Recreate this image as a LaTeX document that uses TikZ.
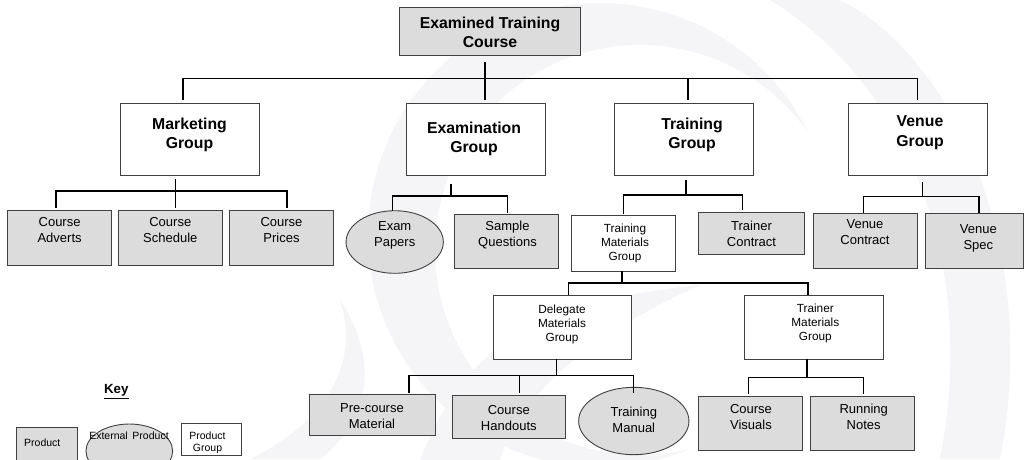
\documentclass[tikz,border=0pt]{standalone}
\usepackage{fontspec}
\setmainfont{Liberation Sans}
\usetikzlibrary{shapes.geometric,calc}
\definecolor{prodgray}{HTML}{DCDCDC}
\definecolor{edge}{HTML}{404040}
\definecolor{wm}{HTML}{F5F5F8}
\tikzset{
  conn/.style={line width=1.2pt, black},
  boxbase/.style={rectangle, draw=edge, line width=0.9pt, inner sep=0pt, outer sep=0pt},
  prod/.style={boxbase, fill=prodgray},
  grp/.style={boxbase, fill=white},
  ext/.style={ellipse, draw=edge, line width=0.9pt, fill=prodgray, inner sep=0pt, outer sep=0pt},
  txt/.style={align=center, inner sep=0pt, text depth=0pt},
  bigtxt/.style={txt, font=\fontsize{15.8}{19.2}\selectfont\bfseries},
  midtxt/.style={txt, font=\fontsize{13}{16}\selectfont},
  smalltxt/.style={txt, font=\fontsize{11.8}{14}\selectfont},
  keytxt/.style={txt, font=\fontsize{10.5}{12}\selectfont},
}
\begin{document}
\begin{tikzpicture}[x=1pt, y=-1pt]
\useasboundingbox (0,0) rectangle (1024,459);
\clip (0,0) rectangle (1024,459);
% faint watermark
\fill[wm] (600,235) circle[radius=232];
\fill[white] (640,250) circle[radius=205];
\fill[wm] (420,460) .. controls (470,330) and (560,300) .. (700,285) .. controls (600,330) and (520,390) .. (500,460) -- cycle;
\fill[wm] (770,0) .. controls (900,80) and (980,250) .. (940,459) -- (1000,459) .. controls (1040,260) and (960,60) .. (840,0) -- cycle;
\fill[wm] (250,459) .. controls (330,420) and (360,360) .. (340,300) .. controls (380,360) and (370,420) .. (320,459) -- cycle;

% level 0
\node[prod, minimum width=181pt, minimum height=48pt] (top) at (489.8,31.3) {};
\node[bigtxt] (ttop) at (490,32.3) {Examined Training\\Course};

% level 1
\node[grp, minimum width=139pt, minimum height=72pt] (mkt) at (189.8,139) {};
\node[bigtxt] (tmkt) at (189.5,133.5) {Marketing\\Group};
\node[grp, minimum width=139pt, minimum height=72pt] (exg) at (475.8,139) {};
\node[bigtxt] (texg) at (474,137.5) {Examination\\Group};
\node[grp, minimum width=139pt, minimum height=72pt] (trg) at (683.8,139) {};
\node[bigtxt] (ttrg) at (692,133.5) {Training\\Group};
\node[grp, minimum width=139pt, minimum height=72pt] (vng) at (917.8,139) {};
\node[bigtxt] (tvng) at (920,131) {Venue\\Group};

% marketing children
\node[prod, minimum width=104.4pt, minimum height=55pt] (adv) at (59.5,237.5) {};
\node[midtxt] (tadv) at (59.6,230.2) {Course\\Adverts};
\node[prod, minimum width=104pt, minimum height=55pt] (sch) at (170.3,237.5) {};
\node[midtxt] (tsch) at (170.3,230.2) {Course\\Schedule};
\node[prod, minimum width=104.4pt, minimum height=55pt] (pri) at (281.5,237.5) {};
\node[midtxt] (tpri) at (281.5,230.2) {Course\\Prices};

% examination children
\node[ext, minimum width=97.3pt, minimum height=62.6pt] (exp) at (394.7,242) {};
\node[midtxt] (texp) at (394.7,234.5) {Exam\\Papers};
\node[prod, minimum width=104.4pt, minimum height=54.4pt] (smq) at (506.5,241.5) {};
\node[midtxt] (tsmq) at (507.5,233.5) {Sample\\Questions};

% training children
\node[grp, minimum width=104.3pt, minimum height=56pt] (tmg) at (623.2,243) {};
\node[smalltxt] (ttmg) at (625,242.1) {Training\\Materials\\Group};
\node[prod, minimum width=106.4pt, minimum height=41.7pt] (trc) at (751.5,233.2) {};
\node[midtxt] (ttrc) at (751.5,233.3) {Trainer\\Contract};

% venue children
\node[prod, minimum width=104pt, minimum height=54.3pt] (vnc) at (865.7,240.8) {};
\node[midtxt] (tvnc) at (865,232.3) {Venue\\Contract};
\node[prod, minimum width=97.3pt, minimum height=55pt] (vns) at (974.3,241.2) {};
\node[midtxt] (tvns) at (978.3,236.7) {Venue\\Spec};

% materials groups
\node[grp, minimum width=138.7pt, minimum height=64pt] (dmg) at (562.3,327) {};
\node[smalltxt] (tdmg) at (562,323.6) {Delegate\\Materials\\Group};
\node[grp, minimum width=139pt, minimum height=64pt] (rmg) at (813.8,327) {};
\node[smalltxt] (trmg) at (815.3,322) {Trainer\\Materials\\Group};

% delegate children
\node[prod, minimum width=126pt, minimum height=41.3pt] (pcm) at (372.3,414.7) {};
\node[midtxt] (tpcm) at (372,415.8) {Pre-course\\Material};
\node[prod, minimum width=113.7pt, minimum height=42.3pt] (cho) at (508.8,416.8) {};
\node[midtxt] (tcho) at (508.8,417.8) {Course\\Handouts};
\node[ext, minimum width=110.3pt, minimum height=67.4pt] (tma) at (633.8,421) {};
\node[midtxt] (ttma) at (633.8,419.5) {Training\\Manual};

% trainer materials children
\node[prod, minimum width=104pt, minimum height=54.3pt] (cvi) at (750,423.2) {};
\node[midtxt] (tcvi) at (751,416.5) {Course\\Visuals};
\node[prod, minimum width=104.3pt, minimum height=54.3pt] (rno) at (862.2,423.2) {};
\node[midtxt] (trno) at (863.7,416.5) {Running\\Notes};

% key
\node[txt, font=\fontsize{13.3}{15}\selectfont\bfseries] (key) at (116.3,389) {\underline{Key}};
\node[prod, minimum width=61pt, minimum height=42.3pt] (kprod) at (46.5,448.8) {};
\node[keytxt] (tkprod) at (42.3,443) {Product};
\node[ext, minimum width=86.7pt, minimum height=54pt] (kext) at (129.3,451) {};
\node[keytxt] (tkext) at (129,436) {External\, Product};
\node[grp, minimum width=60.7pt, minimum height=32.4pt] (kgrp) at (211.3,439.5) {};
\node[keytxt] (tkgrp) at (207.5,441.7) {Product\\Group};

% ---------- connectors ----------
% level 0 -> 1
\coordinate (b1m) at (485,78.7);
\coordinate (b1a) at (183,78.7);
\coordinate (b1t) at (688,78.7);
\coordinate (b1v) at (917.7,78.7);
\draw[conn] ($(top.south -| b1m)+(0,7)$) -- ($(exg.north -| b1m)+(0,-3)$);
\draw[conn] ($(mkt.north -| b1a)+(0,-3)$) -- (b1a) -- (b1v) -- ($(vng.north -| b1v)+(0,-3)$);
\draw[conn] (b1t) -- ($(trg.north -| b1t)+(0,-3)$);

% marketing -> products
\coordinate (b2m) at (175.7,191);
\coordinate (b2a) at (56,191);
\coordinate (b2p) at (287,191);
\draw[conn] ($(mkt.south -| b2m)+(0,4)$) -- ($(sch.north -| b2m)+(0,-2)$);
\draw[conn] ($(adv.north -| b2a)+(0,-2)$) -- (b2a) -- (b2p) -- ($(pri.north -| b2p)+(0,-2)$);

% examination -> products
\coordinate (b3m) at (451,196);
\coordinate (b3a) at (392.3,196);
\coordinate (b3b) at (507.7,196);
\draw[conn] ($(exg.south -| b3m)+(0,9)$) -- (b3m);
\draw[conn] (exp.north -| b3a) -- (b3a) -- (b3b) -- ($(smq.north -| b3b)+(0,-1.6)$);

% training -> children
\coordinate (b4m) at (686,195);
\coordinate (b4a) at (623.3,195);
\coordinate (b4b) at (742.7,195);
\draw[conn] ($(trg.south -| b4m)+(0,5)$) -- (b4m);
\draw[conn] ($(tmg.north -| b4a)+(0,-0.7)$) -- (b4a) -- (b4b) -- ($(trc.north -| b4b)+(0,-2.3)$);

% venue -> children
\coordinate (b5m) at (922.3,196.7);
\coordinate (b5a) at (863.7,196.7);
\coordinate (b5b) at (979,196.7);
\draw[conn] ($(vng.south -| b5m)+(0,7)$) -- (b5m);
\draw[conn] ($(vnc.north -| b5a)+(0,-1)$) -- (b5a) -- (b5b) -- ($(vns.north -| b5b)+(0,-1)$);

% training materials -> groups
\coordinate (b6m) at (622,283);
\coordinate (b6a) at (568.7,283);
\coordinate (b6b) at (808,283);
\draw[conn] (tmg.south -| b6m) -- (b6m);
\draw[conn] (dmg.north -| b6a) -- (b6a) -- (b6b) -- (rmg.north -| b6b);

% delegate -> products
\coordinate (b7m) at (556.3,375.7);
\coordinate (b7a) at (409,375.7);
\coordinate (b7c) at (519.3,375.7);
\coordinate (b7b) at (633.3,375.7);
\draw[conn] (dmg.south -| b7m) -- (b7m);
\draw[conn] ($(pcm.north -| b7a)+(0,-1)$) -- (b7a) -- (b7b) -- ($(tma.north -| b7b)+(0,6)$);
\draw[conn] (b7c) -- ($(cho.north -| b7c)+(0,-2.4)$);

% trainer materials -> products
\coordinate (b8m) at (807,377.3);
\coordinate (b8a) at (748.3,377.3);
\coordinate (b8b) at (863.3,377.3);
\draw[conn] (rmg.south -| b8m) -- (b8m);
\draw[conn] ($(cvi.north -| b8a)+(0,-2)$) -- (b8a) -- (b8b) -- ($(rno.north -| b8b)+(0,-2)$);
\end{tikzpicture}
\end{document}
